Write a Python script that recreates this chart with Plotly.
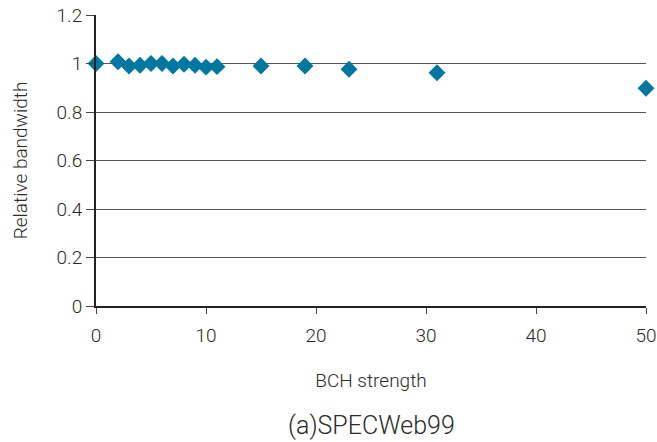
import plotly.graph_objects as go

bch_strength = [0, 2, 3, 4, 5, 6, 7, 8, 9, 10, 11, 15, 19, 23, 31, 50]
relative_bandwidth = [1.0, 1.007, 0.99, 0.993, 1.0, 1.0, 0.99, 0.997, 0.993, 0.985,
                      0.987, 0.99, 0.99, 0.976, 0.962, 0.898]

fig = go.Figure()
fig.add_trace(go.Scatter(
    x=bch_strength, y=relative_bandwidth, mode="markers",
    marker=dict(symbol="diamond", size=13, color="#0077a0"),
    cliponaxis=False, showlegend=False))

font_family = "Roboto, sans-serif"
text_color = "#2a2a2a"
tick_font = dict(size=19, color=text_color, family=font_family, weight=300)
fig.update_layout(
    width=657, height=442,
    margin=dict(l=96, r=11, t=15, b=136, autoexpand=False),
    paper_bgcolor="white", plot_bgcolor="white",
    font=dict(family=font_family, color=text_color, size=19, weight=300),
    xaxis=dict(range=[0, 50], tickvals=[0, 10, 20, 30, 40, 50], automargin=False,
               showgrid=False, zeroline=False, showline=True, linecolor="#222222",
               linewidth=2, ticks="outside", ticklen=6, tickcolor="#444444",
               tickfont=tick_font, ticklabelstandoff=5,
               title=dict(text="BCH strength", font=dict(size=19, weight=300), standoff=28)),
    yaxis=dict(range=[0, 1.2], tickvals=[0, 0.2, 0.4, 0.6, 0.8, 1.0, 1.2], automargin=False,
               ticktext=["0", "0.2", "0.4", "0.6", "0.8", "1", "1.2"],
               showgrid=True, gridcolor="#555555", gridwidth=1,
               zeroline=False, showline=True, linecolor="#222222", linewidth=2,
               ticks="outside", ticklen=8, tickcolor="#444444",
               tickfont=tick_font,
               title=dict(text="Relative bandwidth", font=dict(size=19, weight=300), standoff=24)),
)
fig.add_annotation(text="(a)SPECWeb99", xref="paper", yref="paper", x=0.5, y=-0.355,
                   showarrow=False, xanchor="center", yanchor="top",
                   font=dict(size=25, color=text_color, family=font_family, weight=300))
fig.write_html("out.html", config={"displayModeBar": False},
               post_script="document.body.style.margin='0';")
